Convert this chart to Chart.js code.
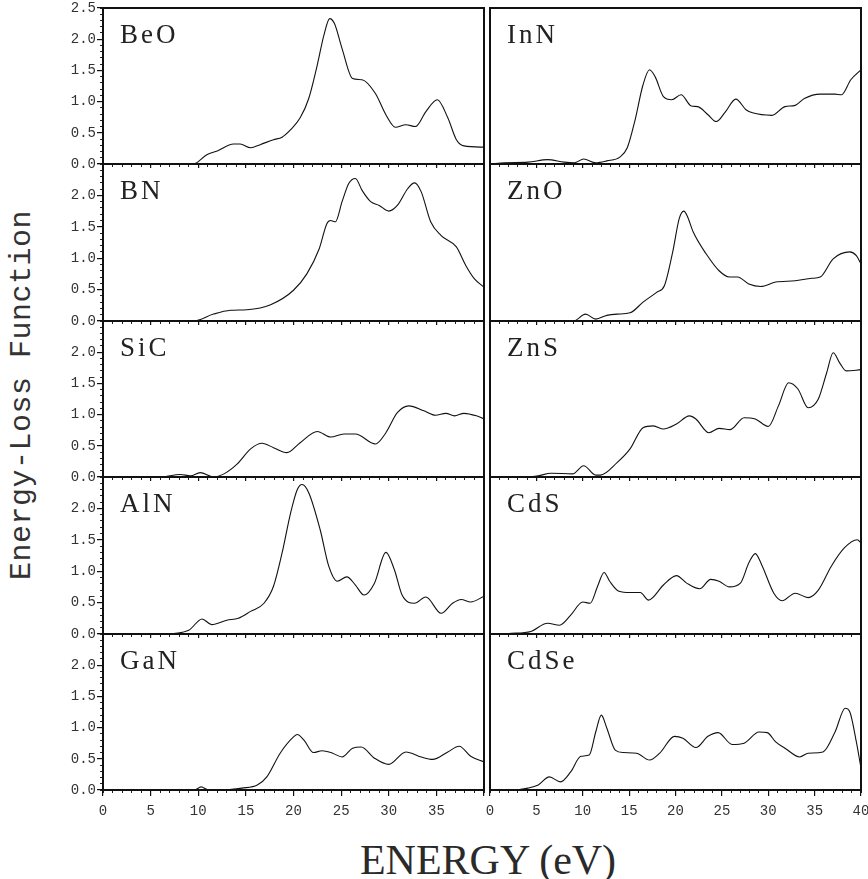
<!DOCTYPE html>
<html><head><meta charset="utf-8">
<script src="https://cdn.jsdelivr.net/npm/chart.js@4.4.1/dist/chart.umd.min.js"></script>
<style>
html,body{margin:0;padding:0;background:#fff;overflow:hidden;width:868px;height:879px;}
#wrap{position:relative;width:868px;height:879px;overflow:hidden;background:#fff;}
canvas{position:absolute;}
#ytitle{position:absolute;left:22px;top:395px;transform:translate(-50%,-50%) rotate(-90deg);white-space:nowrap;font:30px "Liberation Mono";letter-spacing:0.5px;color:#333;line-height:1;}
#xtitle{position:absolute;left:488px;top:839px;transform:translateX(-50%);white-space:nowrap;font:42px "Liberation Serif";color:#2a2a2a;line-height:1;}
</style></head><body><div id="wrap"><div id="ytitle">Energy-Loss Function</div><div id="xtitle">ENERGY (eV)</div></div>
<script>
// ---- data (energy in eV, energy-loss function) ----
const beoE = [0, 9.5, 10.9, 12.0, 13.7, 14.4, 15.5, 16.5, 17.9, 18.8, 19.7, 20.7, 21.6, 22.5, 23.2, 23.8, 24.3, 25.1, 26.2, 27.2, 28.6, 29.7, 30.7, 31.8, 32.8, 33.9, 35.1, 36.2, 37.1, 37.9, 40.0];
const beoV = [0, 0, 0.15, 0.21, 0.32, 0.32, 0.26, 0.31, 0.39, 0.43, 0.55, 0.74, 1.05, 1.59, 2.07, 2.33, 2.25, 1.85, 1.37, 1.35, 1.13, 0.79, 0.59, 0.63, 0.60, 0.84, 1.03, 0.74, 0.39, 0.29, 0.27];
const bnE = [0, 9.5, 11.6, 13.4, 15.1, 17.6, 20.0, 21.4, 22.7, 23.5, 23.9, 24.4, 25.1, 25.8, 26.5, 27.2, 28.1, 29.0, 30.0, 30.9, 32.0, 32.7, 33.4, 34.4, 35.5, 37.1, 38.1, 39.0, 40.0];
const bnV = [0, 0, 0.11, 0.17, 0.18, 0.26, 0.49, 0.75, 1.15, 1.55, 1.60, 1.58, 1.90, 2.19, 2.27, 2.08, 1.90, 1.84, 1.75, 1.84, 2.11, 2.20, 2.06, 1.58, 1.36, 1.18, 0.88, 0.67, 0.54];
const sicE = [0, 6.0, 8.1, 9.2, 10.2, 11.6, 12.7, 14.1, 15.5, 16.7, 17.9, 19.3, 20.7, 22.5, 23.9, 25.3, 26.5, 28.6, 29.7, 30.9, 32.1, 33.7, 34.9, 36.0, 36.9, 37.9, 39.2, 40.0];
const sicV = [0, 0, 0.04, 0.02, 0.07, 0.0, 0.05, 0.21, 0.45, 0.54, 0.47, 0.39, 0.55, 0.73, 0.64, 0.69, 0.69, 0.53, 0.71, 1.03, 1.14, 1.06, 0.99, 1.02, 0.98, 1.02, 0.98, 0.93];
const alnE = [0, 6.3, 9.0, 10.4, 11.4, 13.0, 14.2, 15.5, 16.9, 17.9, 18.8, 19.7, 20.4, 20.9, 21.6, 22.8, 23.7, 24.6, 25.6, 26.5, 27.4, 28.5, 29.7, 30.6, 31.4, 32.7, 33.9, 35.5, 36.7, 37.6, 38.6, 40.0];
const alnV = [0, 0, 0.06, 0.24, 0.15, 0.22, 0.25, 0.36, 0.49, 0.76, 1.29, 1.93, 2.30, 2.38, 2.25, 1.66, 1.08, 0.84, 0.91, 0.78, 0.62, 0.81, 1.30, 1.02, 0.62, 0.49, 0.59, 0.33, 0.49, 0.55, 0.51, 0.60];
const ganE = [0, 9.6, 10.3, 11.1, 12.7, 14.6, 16.2, 17.2, 18.6, 20.0, 20.4, 21.1, 22.1, 23.0, 24.1, 25.1, 26.2, 27.1, 28.5, 30.0, 31.8, 33.4, 34.6, 36.2, 37.4, 38.6, 40.0];
const ganV = [0, 0, 0.05, 0, 0, 0.03, 0.08, 0.21, 0.59, 0.85, 0.89, 0.80, 0.60, 0.63, 0.59, 0.53, 0.67, 0.69, 0.51, 0.41, 0.61, 0.53, 0.49, 0.61, 0.70, 0.54, 0.45];
const innE = [0, 1.6, 4.1, 6.2, 8.0, 9.1, 10.1, 11.4, 12.6, 14.0, 14.8, 15.6, 16.5, 17.2, 17.8, 18.7, 19.6, 20.6, 21.7, 22.4, 23.5, 24.4, 25.4, 26.5, 27.6, 28.3, 30.4, 31.8, 32.9, 33.9, 35.6, 37.2, 37.9, 38.9, 40.0];
const innV = [0, 0.02, 0.03, 0.07, 0.03, 0.02, 0.08, 0.02, 0.05, 0.11, 0.26, 0.68, 1.27, 1.51, 1.40, 1.08, 1.03, 1.11, 0.93, 0.92, 0.79, 0.68, 0.84, 1.04, 0.87, 0.82, 0.78, 0.92, 0.94, 1.05, 1.12, 1.12, 1.11, 1.35, 1.51];
const znoE = [0, 9.0, 10.3, 11.4, 12.6, 13.7, 15.1, 16.5, 18.0, 18.8, 19.7, 20.4, 20.9, 21.3, 21.9, 23.3, 24.7, 25.8, 26.7, 27.9, 29.2, 30.8, 32.9, 34.7, 35.6, 37.0, 38.8, 39.5, 40.0];
const znoV = [0, 0, 0.11, 0.03, 0.09, 0.11, 0.13, 0.30, 0.46, 0.56, 1.10, 1.63, 1.75, 1.66, 1.42, 1.07, 0.80, 0.70, 0.70, 0.59, 0.55, 0.62, 0.64, 0.68, 0.70, 0.99, 1.10, 1.04, 0.91];
const znsE = [0, 4.0, 5.2, 6.6, 8.9, 10.1, 11.4, 11.9, 13.7, 15.1, 16.5, 17.6, 18.7, 20.1, 21.5, 22.2, 23.6, 24.7, 25.9, 27.4, 28.6, 30.0, 31.1, 32.2, 33.2, 34.3, 35.4, 36.3, 37.0, 37.7, 38.4, 40.0];
const znsV = [0, 0, 0.02, 0.06, 0.05, 0.18, 0.03, 0.03, 0.23, 0.45, 0.79, 0.82, 0.77, 0.85, 0.98, 0.93, 0.71, 0.78, 0.76, 0.95, 0.93, 0.81, 1.14, 1.51, 1.41, 1.11, 1.25, 1.67, 1.99, 1.83, 1.70, 1.72];
const cdsE = [0, 2.3, 4.4, 6.2, 7.5, 8.7, 10.0, 10.8, 11.6, 12.3, 12.9, 13.9, 15.1, 16.2, 17.1, 18.7, 20.1, 21.2, 22.6, 23.8, 24.7, 25.8, 27.0, 27.9, 28.6, 29.3, 30.6, 31.5, 32.9, 34.3, 35.4, 36.8, 38.2, 39.6, 40.0];
const cdsV = [0, 0.01, 0.04, 0.17, 0.14, 0.30, 0.51, 0.49, 0.76, 0.98, 0.84, 0.68, 0.66, 0.66, 0.54, 0.78, 0.93, 0.81, 0.72, 0.87, 0.84, 0.75, 0.81, 1.13, 1.28, 1.10, 0.65, 0.53, 0.65, 0.58, 0.70, 1.08, 1.37, 1.50, 1.45];
const cdseE = [0, 2.3, 4.1, 5.2, 6.4, 7.6, 8.7, 9.8, 10.7, 11.4, 12.0, 12.6, 13.5, 14.4, 15.8, 17.2, 18.3, 19.9, 20.8, 22.2, 23.5, 24.6, 26.1, 27.4, 29.0, 29.9, 30.8, 31.8, 33.4, 34.3, 35.9, 37.2, 38.3, 38.8, 39.5, 40.0];
const cdseV = [0, 0, 0.03, 0.08, 0.21, 0.13, 0.29, 0.54, 0.56, 0.93, 1.20, 0.99, 0.64, 0.60, 0.59, 0.48, 0.59, 0.86, 0.83, 0.68, 0.86, 0.92, 0.73, 0.75, 0.93, 0.92, 0.77, 0.67, 0.53, 0.59, 0.61, 0.93, 1.31, 1.25, 0.77, 0.35];

const names = ['BeO','BN','SiC','AlN','GaN','InN','ZnO','ZnS','CdS','CdSe'];
const energies = [beoE, bnE, sicE, alnE, ganE, innE, znoE, znsE, cdsE, cdseE];
const values = [beoV, bnV, sicV, alnV, ganV, innV, znoV, znsV, cdsV, cdseV];
const xMin = 0, xMax = 40, yMin = 0, yMax = 2.5;

// ---- layout ----
const colLeft = [103, 484], colRight = [484, 861];
const rowTop = r => Math.round(8 + r * 156.4);

Chart.defaults.font.family = '"Liberation Mono", monospace';
Chart.defaults.font.size = 14;
Chart.defaults.color = '#333';

const framePlugin = {
  id: 'frame',
  afterDraw(chart, args, opts) {
    const {ctx, chartArea: a} = chart;
    ctx.save();
    ctx.strokeStyle = '#111';
    ctx.lineWidth = 2;
    ctx.strokeRect(a.left, a.top, a.right - a.left, a.bottom - a.top);
    ctx.fillStyle = '#222';
    ctx.font = '27px "Liberation Serif"';
    try { ctx.letterSpacing = '3px'; } catch (e) {}
    ctx.textBaseline = 'alphabetic';
    ctx.textAlign = 'left';
    ctx.fillText(opts.label, a.left + 17, a.top + 35);
    ctx.restore();
  }
};

const wrap = document.getElementById('wrap');
names.forEach((name, i) => {
  const col = i < 5 ? 0 : 1, row = i % 5;
  const top = rowTop(row), bottom = rowTop(row + 1);
  const left = colLeft[col], right = colRight[col];
  const padL = col === 0 ? 100 : 6, padR = 24, padT = 10, padB = row === 4 ? 34 : 10;
  const cv = document.createElement('canvas');
  const W = right - left + padL + padR, H = bottom - top + padT + padB;
  cv.width = W; cv.height = H;
  cv.style.left = (left - padL) + 'px';
  cv.style.top = (top - padT) + 'px';
  cv.style.width = W + 'px'; cv.style.height = H + 'px';
  wrap.appendChild(cv);
  const showY = col === 0, showX = row === 4;
  const pts = energies[i].map((e, k) => ({x: e, y: values[i][k]}));
  new Chart(cv, {
    type: 'line',
    data: { datasets: [{ data: pts, borderColor: '#111', borderWidth: 1.1, pointRadius: 0,
      cubicInterpolationMode: 'monotone', fill: false }] },
    options: {
      responsive: false, animation: false, devicePixelRatio: 1,
      layout: { padding: { top: padT, right: padR, bottom: 0, left: showY ? 0 : padL } },
      plugins: { legend: {display: false}, tooltip: {enabled: false}, frame: {label: name} },
      scales: {
        xMinor: { type: 'linear', position: 'bottom', min: xMin, max: xMax, weight: 0,
          ticks: { stepSize: 1, display: false, autoSkip: false },
          grid: { drawOnChartArea: false, drawTicks: true, tickLength: 3, color: '#222', lineWidth: 1 },
          border: { display: false },
          afterFit: s => { s.height = 0; } },
        x: { type: 'linear', position: 'bottom', min: xMin, max: xMax, weight: 1,
          ticks: { stepSize: 5, display: showX, autoSkip: false, maxRotation: 0, padding: 7,
            callback: v => (col === 0 && v === 40) ? '' : String(v) },
          grid: { drawOnChartArea: false, drawTicks: true, tickLength: showX ? 6 : 4, color: '#111', lineWidth: 1.2 },
          border: { display: false },
          afterFit: s => { s.height = padB; } },
        yMinor: { type: 'linear', position: 'left', min: yMin, max: yMax, weight: 0, display: showY,
          ticks: { stepSize: 0.1, display: false, autoSkip: false },
          grid: { drawOnChartArea: false, drawTicks: true, tickLength: 3, color: '#222', lineWidth: 1 },
          border: { display: false },
          afterFit: s => { s.width = 0; } },
        y: { type: 'linear', position: 'left', min: yMin, max: yMax, weight: 1, display: showY,
          ticks: { stepSize: 0.5, autoSkip: false, padding: 1,
            callback: v => (row > 0 && Math.abs(v - 2.5) < 1e-6) ? '' : Number(v).toFixed(1) },
          grid: { drawOnChartArea: false, drawTicks: true, tickLength: 6, color: '#111', lineWidth: 1.2 },
          border: { display: false },
          afterFit: s => { s.width = padL; } }
      }
    },
    plugins: [framePlugin]
  });
});
</script>
</body></html>
